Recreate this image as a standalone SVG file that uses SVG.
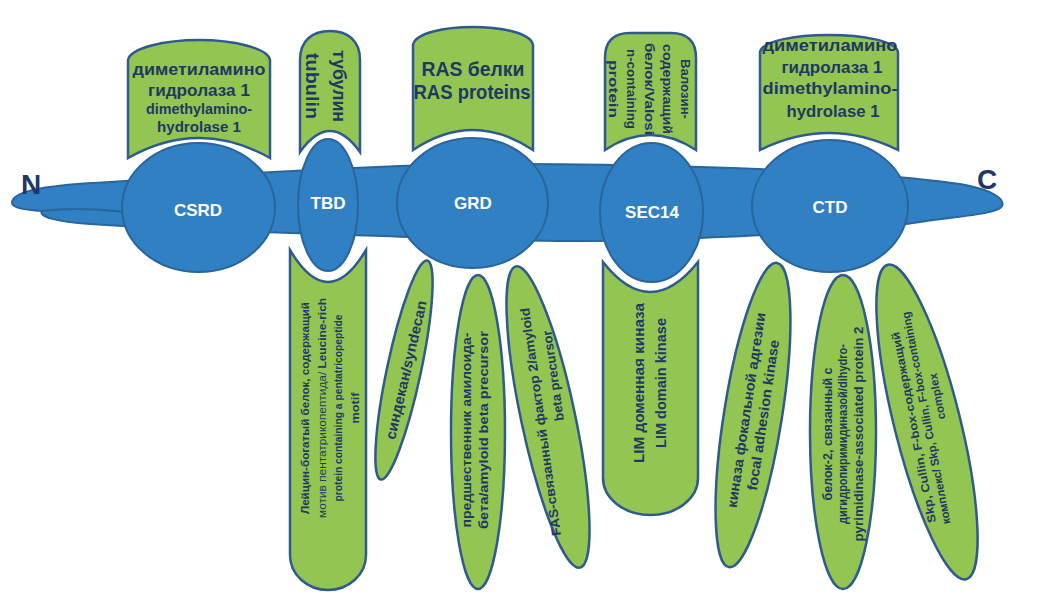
<svg xmlns="http://www.w3.org/2000/svg" width="1037" height="606" viewBox="0 0 1037 606">
<style>
.dom{fill:#3180C3;stroke:#2A649C;stroke-width:2}
.grn{fill:#93C553;stroke:#2E5A8E;stroke-width:2.5}
.t{font-family:"Liberation Sans",Arial,sans-serif;font-weight:bold;fill:#1F3864}
.c{text-anchor:middle}
.r{text-anchor:middle;dominant-baseline:central}
.w{font-family:"Liberation Sans",Arial,sans-serif;font-weight:bold;fill:#FFFFFF;text-anchor:middle;font-size:17px}
</style>
<rect width="1037" height="606" fill="#FFFFFF"/>
<g id="backbone">
<path class="dom" d="M12,202 C14,190 50,185 110,182 C200,176 300,170 400,166 C500,162 600,164 700,167 C800,170 900,175 960,184 C995,190 1005,200 1002,206 C998,214 960,216 920,222 C850,232 750,236 650,240 C550,243 450,238 350,235 C250,232 150,228 90,224 C55,222 38,216 42,211 C25,210 11,208 12,202 Z"/>
<path d="M42,211 C70,208 100,209 125,212" fill="none" stroke="#2A649C" stroke-width="2"/>
<text class="t" x="21" y="194" font-size="28">N</text>
<text class="t" x="977" y="189" font-size="28">C</text>
</g>
<g id="connectors"></g>
<g id="CSRD">
<path class="grn" d="M128,158 L128,60 C130,48 165,40 199,40 C233,40 268,48 270,60 L270,158 Q199,118 128,158 Z"/>
<text class="t c" font-size="17"><tspan x="199" y="75" textLength="133" lengthAdjust="spacingAndGlyphs">диметиламино</tspan><tspan x="199" y="96" textLength="102" lengthAdjust="spacingAndGlyphs">гидролаза 1</tspan></text>
<text class="t c" font-size="14"><tspan x="199" y="114" textLength="106" lengthAdjust="spacingAndGlyphs">dimethylamino-</tspan><tspan x="199" y="132" textLength="84" lengthAdjust="spacingAndGlyphs">hydrolase 1</tspan></text>
<ellipse class="dom" cx="198.5" cy="207.5" rx="76.5" ry="64.5"/>
<text class="w" x="198" y="216">CSRD</text>
</g>
<g id="TBD">
<path class="grn" d="M300,152 L300,60 C300,40 313,31 330,31 C347,31 360,40 360,60 L360,152 Q330,110 300,152 Z"/>
<text class="t r" font-size="18" transform="translate(325.5,86) rotate(90)"><tspan x="0" y="-13.5" textLength="72" lengthAdjust="spacingAndGlyphs">тубулин</tspan><tspan x="0" y="13.5" textLength="66" lengthAdjust="spacingAndGlyphs">tubulin</tspan></text>
<ellipse class="dom" cx="328" cy="205" rx="30" ry="66"/>
<text class="w" x="328" y="209">TBD</text>
<path class="grn" d="M290,250 Q328,314 366,250 L366,555 A38,35 0 0 1 290,555 Z"/>
<text class="t r" font-size="11.5" transform="translate(330,408) rotate(-90)"><tspan x="0" y="-24.75" textLength="212" lengthAdjust="spacingAndGlyphs">Лейцин-богатый белок, содержащий</tspan><tspan x="0" y="-8.25" textLength="220" lengthAdjust="spacingAndGlyphs"><tspan font-weight="normal">мотив пентатрикопептида/</tspan> Leucine-rich</tspan><tspan x="0" y="8.25" textLength="187" lengthAdjust="spacingAndGlyphs">protein containing a pentatricopeptide</tspan><tspan x="0" y="24.75" textLength="31" lengthAdjust="spacingAndGlyphs">motif</tspan></text>
</g>
<g id="GRD">
<path class="grn" d="M413,150 L413,45 C415,33 445,27 473,27 C501,27 531,33 533,45 L533,150 Q473,110 413,150 Z"/>
<text class="t c" font-size="21"><tspan x="473" y="76" textLength="103" lengthAdjust="spacingAndGlyphs">RAS белки</tspan><tspan x="472" y="99" textLength="117" lengthAdjust="spacingAndGlyphs">RAS proteins</tspan></text>
<ellipse class="dom" cx="472.5" cy="203" rx="75.5" ry="65"/>
<text class="w" x="473" y="209">GRD</text>
<g id="syndecan">
<ellipse class="grn" cx="404" cy="370" rx="17" ry="112" transform="rotate(12 404 370)"/>
<text class="t r" font-size="14.5" transform="translate(406,370) rotate(-77)"><tspan x="0" y="0" textLength="142" lengthAdjust="spacingAndGlyphs">синдекан/syndecan</tspan></text>
</g>
<g id="amyloid">
<ellipse class="grn" cx="478" cy="432" rx="27" ry="157"/>
<text class="t r" font-size="13" transform="translate(474,430) rotate(-90)"><tspan x="0" y="-8.5" textLength="195" lengthAdjust="spacingAndGlyphs">предшественник амилоида-</tspan><tspan x="0" y="8.5" textLength="198" lengthAdjust="spacingAndGlyphs">бета/amyloid beta precursor</tspan></text>
</g>
<g id="fas">
<ellipse class="grn" cx="548" cy="417" rx="27" ry="154" transform="rotate(-12 548 417)"/>
<text class="t r" font-size="13" transform="translate(540,422) rotate(-98)"><tspan x="0" y="0" textLength="230" lengthAdjust="spacingAndGlyphs">FAS-связанный  фактор 2/amyloid</tspan><tspan x="44" y="19">beta precursor</tspan></text>
</g>
</g>
<g id="SEC14">
<path class="grn" d="M605,150 L605,58 C605,40 615,33 630,33 L671,33 C686,33 696,40 696,58 L696,150 Q650,120 605,150 Z"/>
<text class="t r" font-size="13" transform="translate(650,89) rotate(90)"><tspan x="0" y="-36" textLength="60" lengthAdjust="spacingAndGlyphs">Валозин-</tspan><tspan x="0" y="-18" textLength="90" lengthAdjust="spacingAndGlyphs">содержащий</tspan><tspan x="0" y="0" textLength="92" lengthAdjust="spacingAndGlyphs">белок/Valosi</tspan><tspan x="0" y="18" textLength="80" lengthAdjust="spacingAndGlyphs">n-containing</tspan><tspan x="0" y="36" textLength="58" lengthAdjust="spacingAndGlyphs">protein</tspan></text>
<ellipse class="dom" cx="651.5" cy="212.5" rx="51.5" ry="69.5"/>
<text class="w" x="652" y="218">SEC14</text>
<path class="grn" d="M603,262 Q650,322 698,262 L698,478 A47.5,37 0 0 1 603,478 Z"/>
<text class="t r" font-size="15" transform="translate(649,383) rotate(-90)"><tspan x="0" y="-11" textLength="160" lengthAdjust="spacingAndGlyphs">LIM доменная киназа</tspan><tspan x="0" y="11" textLength="130" lengthAdjust="spacingAndGlyphs">LIM domain kinase</tspan></text>
</g>
<g id="CTD">
<path class="grn" d="M760,150 L760,52 C762,41 795,35 829,35 C863,35 896,41 898,52 L898,150 Q829,116 760,150 Z"/>
<text class="t c" font-size="17"><tspan x="830" y="51" textLength="135" lengthAdjust="spacingAndGlyphs">диметиламино</tspan><tspan x="832" y="73" textLength="101" lengthAdjust="spacingAndGlyphs">гидролаза 1</tspan><tspan x="830" y="94" textLength="135" lengthAdjust="spacingAndGlyphs">dimethylamino-</tspan><tspan x="833" y="117" textLength="93" lengthAdjust="spacingAndGlyphs">hydrolase 1</tspan></text>
<ellipse class="dom" cx="830" cy="206" rx="78" ry="66"/>
<text class="w" x="830" y="213">CTD</text>
<g id="focal">
<ellipse class="grn" cx="753" cy="415" rx="29" ry="154" transform="rotate(9 753 415)"/>
<text class="t r" font-size="14" transform="translate(746,410) rotate(-81.5)"><tspan x="0" y="0" textLength="197" lengthAdjust="spacingAndGlyphs">киназа  фокальной  адгезии</tspan><tspan x="-2.5" y="17.6" textLength="152" lengthAdjust="spacingAndGlyphs">focal adhesion kinase</tspan></text>
</g>
<g id="dihydro">
<ellipse class="grn" cx="843" cy="432" rx="33" ry="157"/>
<text class="t r" font-size="12.5" transform="translate(843,434) rotate(-90)"><tspan x="0" y="-15.5" textLength="133" lengthAdjust="spacingAndGlyphs">белок-2,  связанный с</tspan><tspan x="0" y="0" textLength="180" lengthAdjust="spacingAndGlyphs">дигидропиримидиназой/dihydro-</tspan><tspan x="0" y="15.5" textLength="215" lengthAdjust="spacingAndGlyphs">pyrimidinase-associated protein 2</tspan></text>
</g>
<g id="skp">
<ellipse class="grn" cx="927" cy="422" rx="33" ry="162" transform="rotate(-14 927 422)"/>
<text class="t r" font-size="11.5" transform="translate(913.5,427.5) rotate(-101)"><tspan x="0" y="0" textLength="194" lengthAdjust="spacingAndGlyphs">Skp, Cullin,  F-box-содержащий</tspan><tspan x="6.9" y="14.1" textLength="216" lengthAdjust="spacingAndGlyphs">комплекс/ Skp, Cullin,  F-box-containing</tspan><tspan x="26" y="29">complex</tspan></text>
</g>
</g>
</svg>
